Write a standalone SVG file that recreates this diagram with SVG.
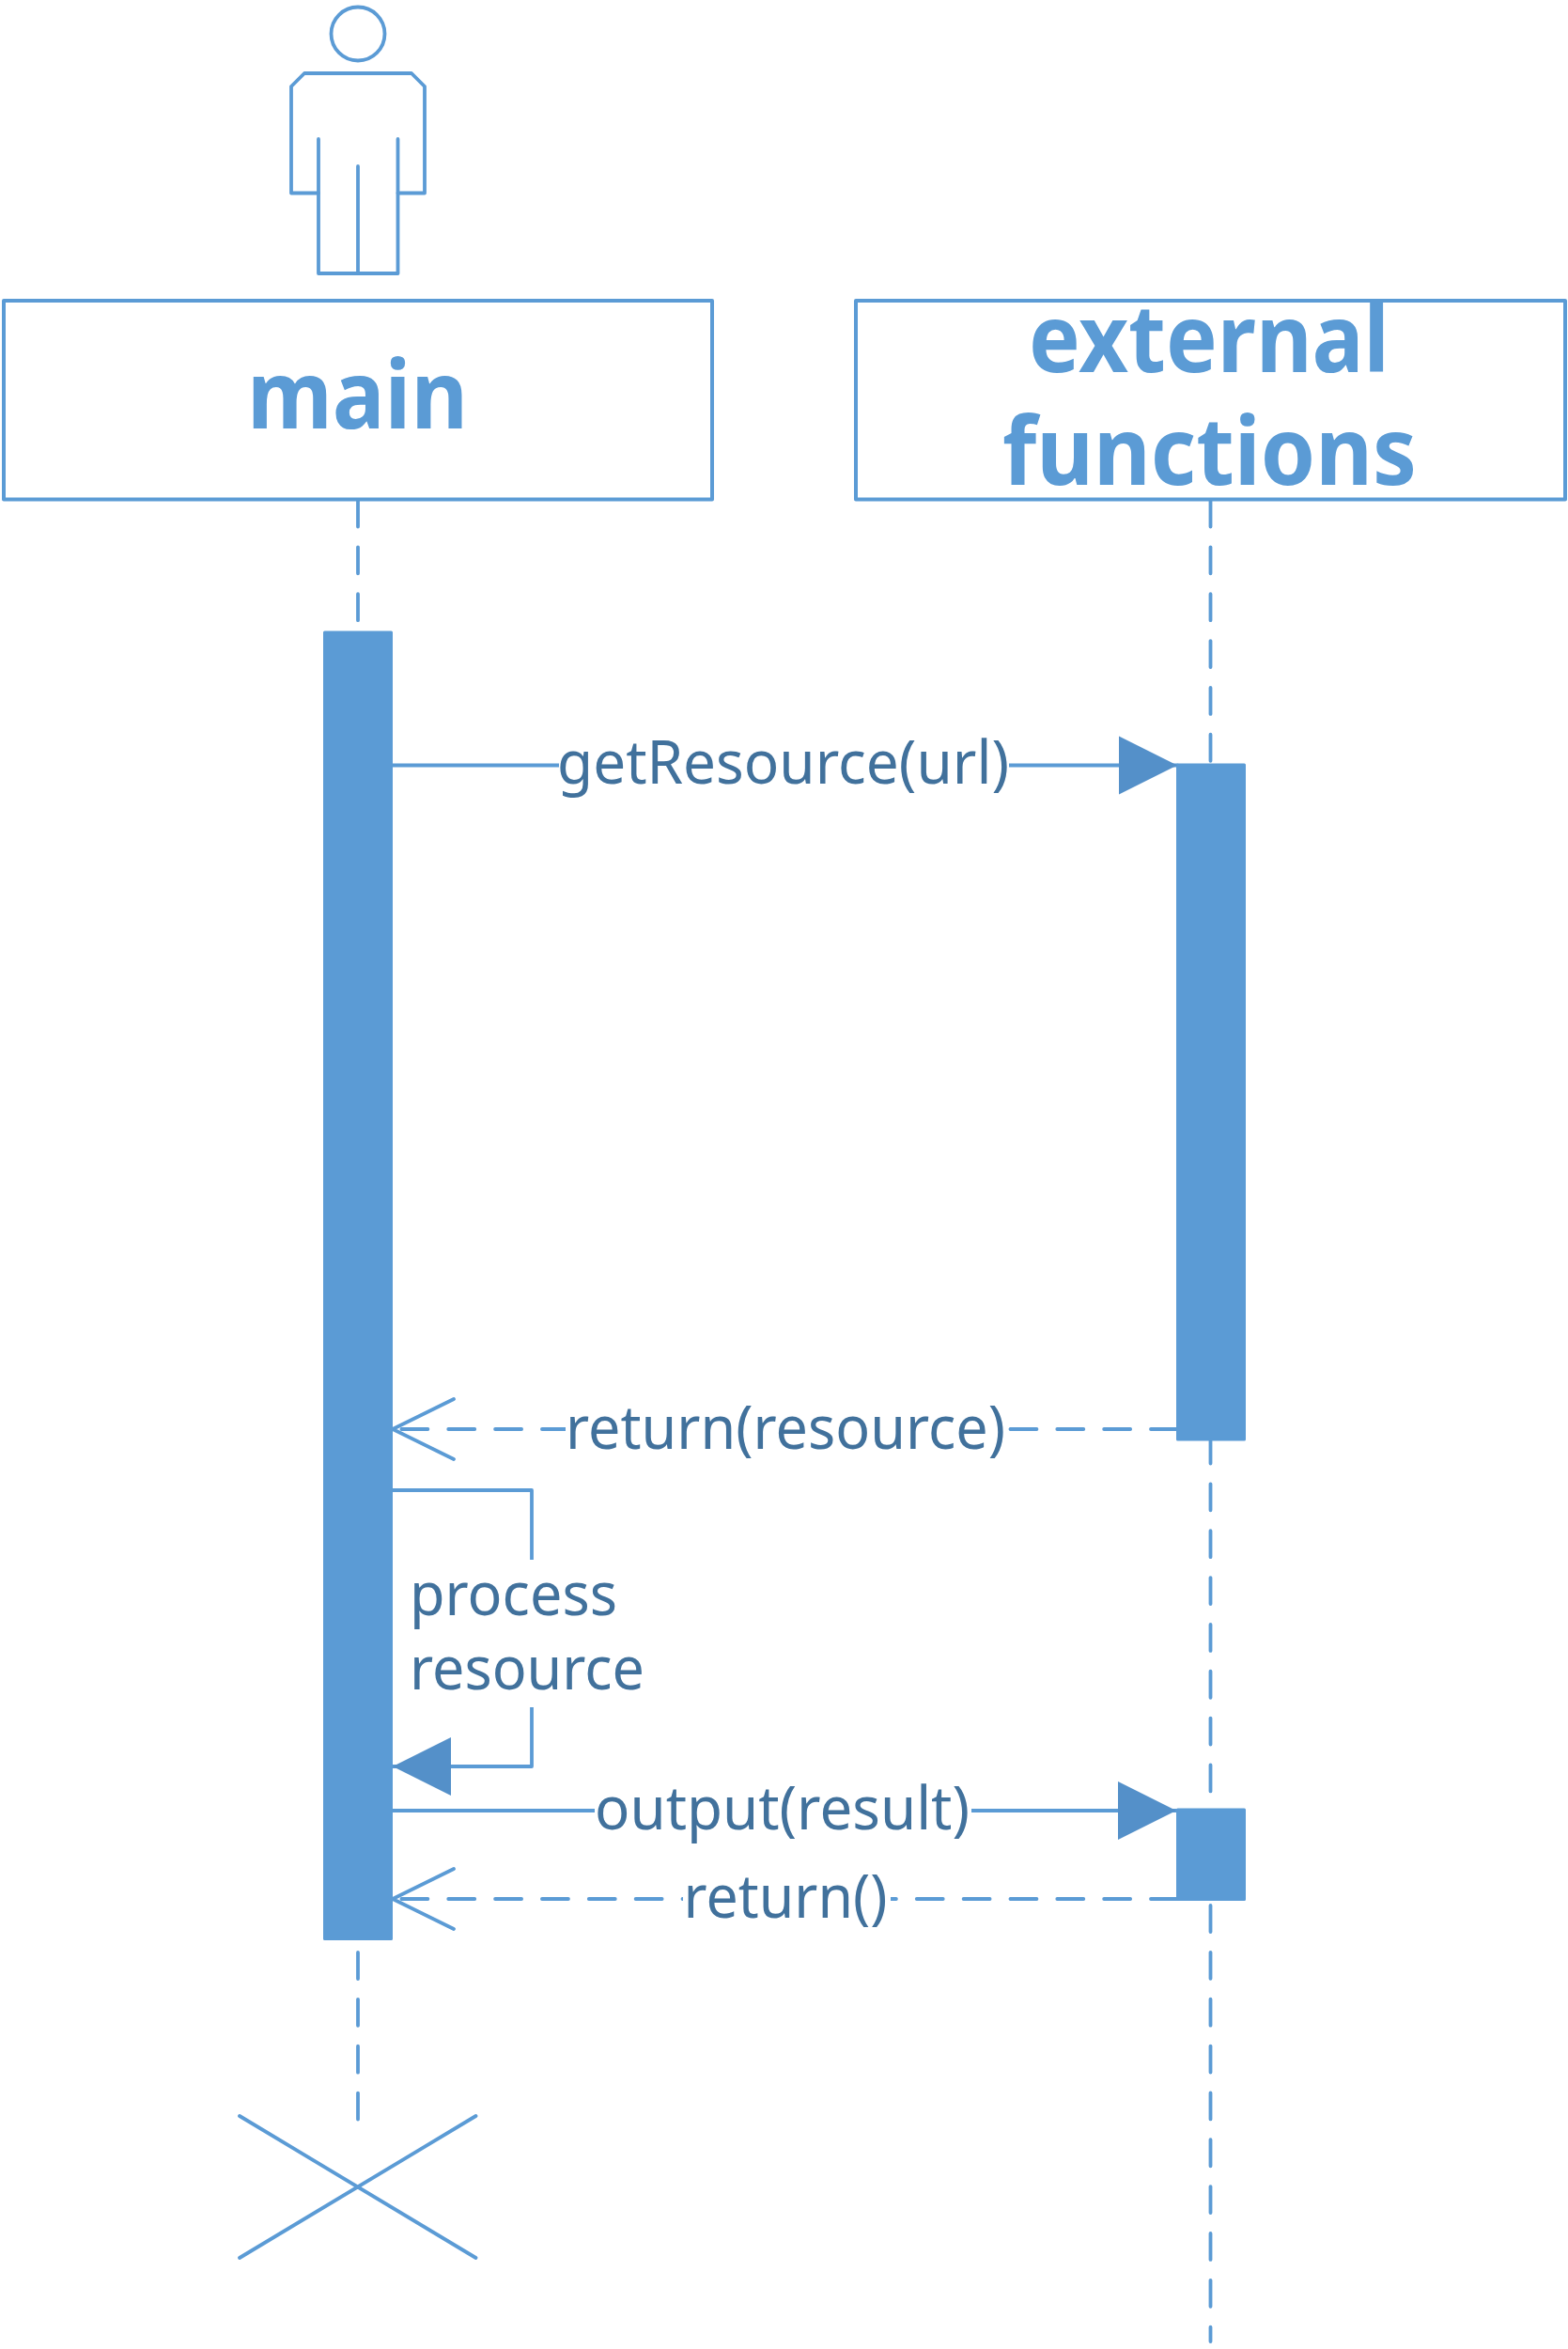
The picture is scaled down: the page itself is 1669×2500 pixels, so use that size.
<svg xmlns="http://www.w3.org/2000/svg" width="1669" height="2500" viewBox="0 0 1669 2500">
<style>
.ln{fill:none;stroke:#5b9bd5;stroke-width:3.8;stroke-linecap:round;stroke-linejoin:round}
.life{stroke-dasharray:28 21.85}
.msgd{stroke-dasharray:28 21.85}
.bar{fill:#5b9bd5;stroke:#5b9bd5;stroke-width:3;stroke-linejoin:round}
.box{fill:#fff;stroke:#5b9bd5;stroke-width:4;stroke-linejoin:round}
.title{font-family:"Noto Sans","Open Sans",sans-serif;font-weight:700;font-size:100px;fill:#5b9bd5}
.lbl{font-family:"Noto Sans","Open Sans",sans-serif;font-weight:400;font-size:64px;fill:#41719c}
.bg{fill:#fff}
</style>
<defs>
<marker id="filled" markerUnits="userSpaceOnUse" markerWidth="70" markerHeight="70" refX="62" refY="31" orient="auto" overflow="visible"><path d="M0,0L62,31L0,62Z" fill="#5490c9"/></marker>
<marker id="open" markerUnits="userSpaceOnUse" markerWidth="70" markerHeight="70" refX="65" refY="32" orient="auto" overflow="visible"><path d="M0,0L65,32L0,64" fill="none" stroke="#5b9bd5" stroke-width="3.800" stroke-linecap="round" stroke-linejoin="round"/></marker>
</defs>
<rect width="1669" height="2500" fill="#fff"/>
<g id="lifelines">
<path class="ln life" d="M381,532.500V672"/>
<path class="ln life" d="M381,2078V2256"/>
<path class="ln life" d="M1288.500,532.500V2492"/>
</g>
<g id="actor-icon" class="ln">
<circle cx="381" cy="36" r="28.500"/>
<path d="M339,205.500H310V92L324,78H438L452,92V205.500H423.500"/>
<path d="M339,148V291H423.500V148"/>
<path d="M381,177V291"/>
</g>
<g id="main"><rect class="box" x="4" y="320" width="754" height="211.500"/><text class="title" x="263" y="456" textLength="235" lengthAdjust="spacingAndGlyphs">main</text></g>
<g id="external-functions"><rect class="box" x="911" y="320" width="755" height="211.500"/><text class="title" x="1095" y="396" textLength="384" lengthAdjust="spacingAndGlyphs">external</text><text class="title" x="1067" y="516" textLength="441" lengthAdjust="spacingAndGlyphs">functions</text></g>
<g id="activation-main"><rect class="bar" x="345.500" y="673" width="71" height="1390.500"/></g>
<g id="activation-external-1"><rect class="bar" x="1253.500" y="814" width="71" height="718"/></g>
<g id="activation-external-2"><rect class="bar" x="1253.500" y="1926" width="71" height="95.500"/></g>
<g id="connectors">
<path class="ln" d="M418,814.500H1253" marker-end="url(#filled)"/>
<path class="ln msgd" d="M1253,1521H418" marker-end="url(#open)"/>
<path class="ln" d="M418,1586H566V1880H418" marker-end="url(#filled)"/>
<path class="ln" d="M418,1927H1252" marker-end="url(#filled)"/>
<path class="ln msgd" d="M1253,2021H418" marker-end="url(#open)"/>
</g>
<g id="label-getresource"><rect class="bg" x="595" y="770" width="479" height="80"/><text class="lbl" x="593" y="834" textLength="481" lengthAdjust="spacingAndGlyphs">getResource(url)</text></g>
<g id="label-return-resource"><rect class="bg" x="602" y="1480" width="471" height="80"/><text class="lbl" x="602" y="1541.500" textLength="468" lengthAdjust="spacingAndGlyphs">return(resource)</text></g>
<g id="label-process"><rect class="bg" x="436" y="1660" width="254" height="157"/><text class="lbl" x="436" y="1719" textLength="221" lengthAdjust="spacingAndGlyphs">process</text><text class="lbl" x="436" y="1797.500" textLength="250" lengthAdjust="spacingAndGlyphs">resource</text></g>
<g id="label-output"><rect class="bg" x="633" y="1885" width="401" height="80"/><text class="lbl" x="633" y="1947" textLength="399" lengthAdjust="spacingAndGlyphs">output(result)</text></g>
<g id="label-return"><rect class="bg" x="727" y="1980" width="221" height="80"/><text class="lbl" x="727.500" y="2040.500" textLength="217" lengthAdjust="spacingAndGlyphs">return()</text></g>
<g id="destroy" class="ln"><path d="M255,2252L506.500,2403M506.500,2252L255,2403"/></g>
</svg>
